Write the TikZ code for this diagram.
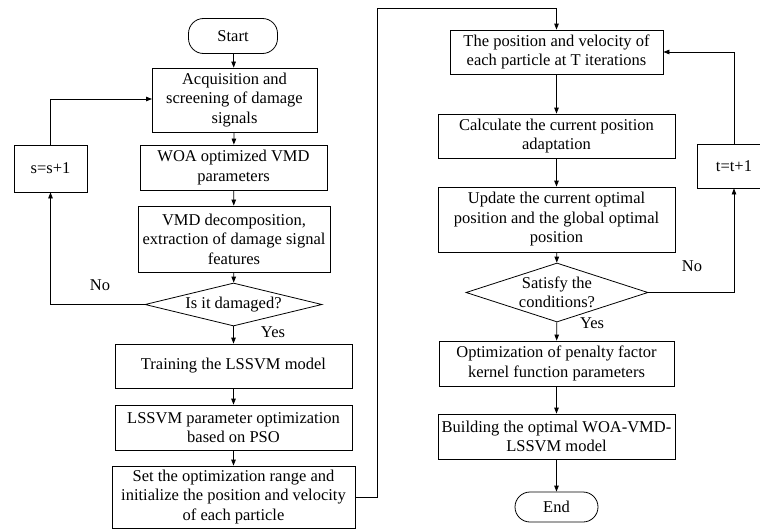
\documentclass[tikz,border=0pt]{standalone}
\usepackage{fontspec}
\setmainfont{Liberation Serif}
\usetikzlibrary{arrows.meta,positioning,shapes.geometric}

\begin{document}
\begin{tikzpicture}[
      x=1pt,y=-1pt,
      box/.style={draw,line width=0.8pt,align=center,inner sep=1pt,
                  font=\fontsize{16.5}{19.5}\selectfont},
      term/.style={box,rounded corners=15pt},
      cond/.style={draw,diamond,line width=0.8pt,align=center,inner sep=0pt,
                   font=\fontsize{16.5}{19.5}\selectfont},
      arr/.style={-{Triangle[length=6pt,width=4.5pt]},line width=0.8pt},
      lbl/.style={font=\fontsize{16.5}{19.5}\selectfont},
    ]
    \useasboundingbox (0,0) rectangle (760,530);

    % ── Left column ────────────────────────────────────────────────────────
    \node[term,minimum width=89pt,minimum height=35pt] (start) at (233,36) {Start};
    \node[box,minimum width=165pt,minimum height=64pt] (acq) at (234.5,100)
          {Acquisition and\\screening of damage\\signals};
    \node[box,minimum width=187pt,minimum height=45pt] (woa) at (233.5,167.5)
          {WOA optimized VMD\\parameters};
    \node[box,minimum width=192pt,minimum height=66pt] (vmd) at (234,239)
          {VMD decomposition,\\extraction of damage signal\\features};
    \node[cond,shape aspect=4.1,minimum width=177pt,minimum height=43pt]
          (dmg) at (233.5,304.5) {Is it damaged?};
    \node[box,minimum width=73pt,minimum height=47pt] (sinc) at (50.5,168.5) {s=s+1};
    \node[box,minimum width=237pt,minimum height=44pt] (train) at (233.5,366)
          {Training the LSSVM model};
    \node[box,minimum width=237pt,minimum height=45pt] (pso) at (233.5,427.5)
          {LSSVM parameter optimization\\based on PSO};
    \node[box,minimum width=243pt,minimum height=62pt] (init) at (233.5,497)
          {Set the optimization range and\\initialize the position and velocity\\of each particle};

    % ── Right column ───────────────────────────────────────────────────────
    \node[box,minimum width=213pt,minimum height=44pt] (pos) at (556.5,52)
          {The position and velocity of\\each particle at T iterations};
    \node[box,minimum width=237pt,minimum height=44pt] (calc) at (556.5,136)
          {Calculate the current position\\adaptation};
    \node[box,minimum width=237pt,minimum height=65pt] (upd) at (556.5,219.5)
          {Update the current optimal\\position and the global optimal\\position};
    \node[cond,shape aspect=3.1,minimum width=182pt,minimum height=59pt]
          (sat) at (557,292.5) {Satisfy the\\conditions?};
    \node[box,minimum width=74pt,minimum height=44pt] (tinc) at (734,166) {t=t+1};
    \node[box,minimum width=235pt,minimum height=45pt] (opt) at (556.5,363.5)
          {Optimization of penalty factor\\kernel function parameters};
    \node[box,minimum width=237pt,minimum height=45pt] (build) at (556.5,436.5)
          {Building the optimal WOA-VMD-\\LSSVM model};
    \node[term,minimum width=83pt,minimum height=30pt] (end) at (556.5,507) {End};

    % ── Main flow ──────────────────────────────────────────────────────────
    \coordinate (top) at (377,8);
    \draw[arr] (start) -- (acq);
    \draw[arr] (acq) -- (woa);
    \draw[arr] (woa) -- (vmd);
    \draw[arr] (vmd) -- (dmg);
    \draw[arr] (dmg) -- (train);
    \draw[arr] (train) -- (pso);
    \draw[arr] (pso) -- (init);
    \draw[arr] (init.east) -| (top) -| (pos.north);
    \draw[arr] (pos) -- (calc);
    \draw[arr] (calc) -- (upd);
    \draw[arr] (upd) -- (sat);
    \draw[arr] (sat) -- (opt);
    \draw[arr] (opt) -- (build);
    \draw[arr] (build) -- (end);

    % ── Loops ──────────────────────────────────────────────────────────────
    \coordinate (acqin) at (152,99);
    \draw[arr] (dmg.west) -| (sinc.south);
    \draw[arr] (sinc.north) |- (acqin);
    \draw[arr] (sat.east) -| (tinc.south);
    \draw[arr] (tinc.north) |- (pos.east);

    % ── Labels ─────────────────────────────────────────────────────────────
    \node[lbl] (no1)  at (100,285) {No};
    \node[lbl] (yes1) at (273,332) {Yes};
    \node[lbl] (no2)  at (692,266) {No};
    \node[lbl] (yes2) at (592,323) {Yes};

  \end{tikzpicture}
\end{document}
